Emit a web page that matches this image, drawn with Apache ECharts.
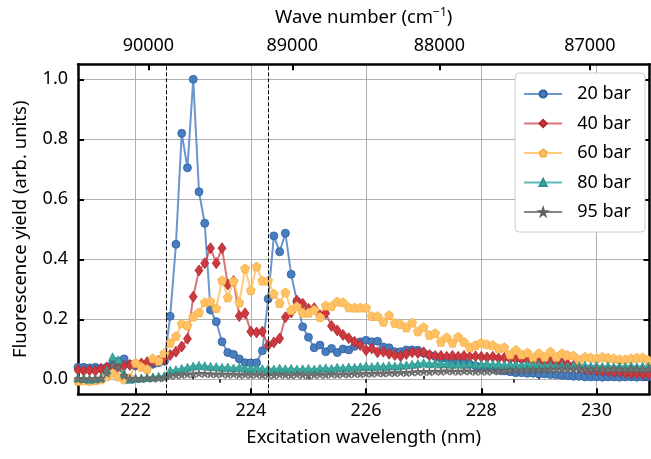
<!DOCTYPE html>
<html>
<head>
<meta charset="utf-8">
<script src="https://cdn.jsdelivr.net/npm/echarts@6/dist/echarts.min.js"></script>
<style>
  html, body { margin: 0; padding: 0; background: #fff; }
  #chart { width: 651px; height: 459px; }
</style>
</head>
<body>
<div id="chart"></div>
<script>
// excitation wavelength grid (nm), 0.1 nm steps
const wavelength = []
for (let i = 0; i <= 100; i++) wavelength.push(+(221 + 0.1 * i).toFixed(1))

const bar20 = [
  0.040, 0.040, 0.038, 0.040, 0.036, 0.040, 0.050, 0.060, 0.068, 0.050,
  0.045, 0.045, 0.048, 0.050, 0.055, 0.060, 0.210, 0.450, 0.820, 0.705,
  1.000, 0.625, 0.520, 0.231, 0.192, 0.125, 0.089, 0.083, 0.068, 0.055,
  0.055, 0.055, 0.095, 0.268, 0.478, 0.425, 0.487, 0.350, 0.260, 0.175,
  0.140, 0.105, 0.114, 0.092, 0.103, 0.089, 0.101, 0.098, 0.110, 0.125,
  0.130, 0.125, 0.127, 0.108, 0.105, 0.092, 0.092, 0.098, 0.098, 0.097,
  0.087, 0.081, 0.076, 0.070, 0.070, 0.065, 0.060, 0.055, 0.050, 0.045,
  0.042, 0.038, 0.035, 0.030, 0.028, 0.025, 0.022, 0.022, 0.020, 0.020,
  0.018, 0.018, 0.016, 0.015, 0.013, 0.012, 0.010, 0.010, 0.008, 0.008,
  0.008, 0.007, 0.008, 0.008, 0.007, 0.008, 0.008, 0.007, 0.008, 0.008, 0.008
]
const bar40 = [
  0.031, 0.028, 0.030, 0.028, 0.035, 0.040, 0.040, 0.042, 0.045, 0.048,
  0.051, 0.053, 0.057, 0.059, 0.062, 0.068, 0.081, 0.092, 0.109, 0.135,
  0.275, 0.363, 0.387, 0.437, 0.387, 0.437, 0.316, 0.328, 0.211, 0.220,
  0.159, 0.156, 0.159, 0.113, 0.123, 0.136, 0.207, 0.223, 0.262, 0.252,
  0.235, 0.237, 0.214, 0.220, 0.178, 0.163, 0.148, 0.137, 0.125, 0.114,
  0.097, 0.103, 0.090, 0.092, 0.085, 0.081, 0.077, 0.084, 0.090, 0.088,
  0.090, 0.081, 0.078, 0.078, 0.075, 0.078, 0.075, 0.078, 0.075, 0.077,
  0.075, 0.073, 0.075, 0.070, 0.072, 0.068, 0.067, 0.065, 0.064, 0.062,
  0.061, 0.058, 0.060, 0.055, 0.055, 0.050, 0.045, 0.040, 0.035, 0.032,
  0.030, 0.028, 0.027, 0.025, 0.024, 0.022, 0.020, 0.020, 0.018, 0.018, 0.017
]
const bar60 = [
  -0.005, -0.003, -0.005, -0.003, 0.000, 0.010, 0.020, 0.009, 0.000, 0.005,
  0.055, 0.042, 0.034, 0.070, 0.062, 0.087, 0.122, 0.144, 0.186, 0.180,
  0.209, 0.223, 0.257, 0.260, 0.237, 0.330, 0.273, 0.328, 0.256, 0.370,
  0.297, 0.376, 0.329, 0.329, 0.285, 0.254, 0.290, 0.231, 0.243, 0.222,
  0.222, 0.232, 0.208, 0.246, 0.244, 0.259, 0.257, 0.240, 0.239, 0.239,
  0.239, 0.211, 0.211, 0.192, 0.214, 0.188, 0.184, 0.173, 0.189, 0.160,
  0.174, 0.148, 0.154, 0.125, 0.140, 0.122, 0.142, 0.125, 0.107, 0.114,
  0.122, 0.117, 0.114, 0.103, 0.107, 0.083, 0.098, 0.083, 0.089, 0.073,
  0.087, 0.075, 0.092, 0.075, 0.087, 0.081, 0.079, 0.064, 0.075, 0.073,
  0.070, 0.075, 0.072, 0.070, 0.067, 0.067, 0.070, 0.072, 0.073, 0.064, 0.065
]
const bar80 = [
  0.005, 0.003, 0.000, 0.002, 0.005, 0.030, 0.075, 0.065, 0.020, 0.000,
  0.003, 0.004, 0.006, 0.008, 0.010, 0.012, 0.030, 0.032, 0.036, 0.040,
  0.044, 0.047, 0.045, 0.043, 0.042, 0.040, 0.041, 0.038, 0.040, 0.037,
  0.036, 0.038, 0.035, 0.036, 0.034, 0.037, 0.035, 0.036, 0.034, 0.035,
  0.036, 0.034, 0.037, 0.038, 0.036, 0.040, 0.038, 0.041, 0.040, 0.042,
  0.044, 0.042, 0.045, 0.043, 0.046, 0.044, 0.047, 0.048, 0.050, 0.052,
  0.055, 0.052, 0.054, 0.051, 0.053, 0.050, 0.052, 0.050, 0.053, 0.051,
  0.050, 0.052, 0.049, 0.051, 0.048, 0.050, 0.049, 0.047, 0.050, 0.048,
  0.049, 0.046, 0.048, 0.045, 0.047, 0.044, 0.046, 0.045, 0.047, 0.044,
  0.046, 0.043, 0.045, 0.042, 0.044, 0.043, 0.045, 0.042, 0.044, 0.043, 0.044
]
const bar95 = [
  0.002, 0.000, 0.002, 0.001, 0.003, 0.020, 0.048, 0.040, 0.012, 0.002,
  0.003, 0.002, 0.004, 0.003, 0.004, 0.005, 0.012, 0.014, 0.015, 0.017,
  0.018, 0.020, 0.019, 0.018, 0.017, 0.018, 0.016, 0.017, 0.015, 0.016,
  0.015, 0.016, 0.014, 0.015, 0.014, 0.016, 0.015, 0.014, 0.016, 0.015,
  0.014, 0.015, 0.016, 0.015, 0.017, 0.016, 0.018, 0.017, 0.019, 0.018,
  0.020, 0.019, 0.021, 0.020, 0.022, 0.021, 0.023, 0.022, 0.024, 0.025,
  0.026, 0.025, 0.027, 0.026, 0.028, 0.027, 0.026, 0.028, 0.027, 0.026,
  0.027, 0.026, 0.028, 0.027, 0.029, 0.030, 0.031, 0.030, 0.032, 0.031,
  0.033, 0.032, 0.034, 0.033, 0.035, 0.034, 0.033, 0.035, 0.034, 0.033,
  0.035, 0.034, 0.033, 0.035, 0.034, 0.033, 0.035, 0.034, 0.033, 0.034, 0.033
]

// dashed resonance markers (nm)
const resonances = [222.54, 224.31]

const wlMajor = [222, 224, 226, 228, 230]
const wlMinor = [223, 225, 227, 229]
const yTicks = [0, 0.2, 0.4, 0.6, 0.8, 1.0]
const wnMajor = [90000, 89000, 88000, 87000]
const wnMinor = [89500, 88500, 87500]

const FONT = 'Noto Sans'
const X_MIN = 221, X_MAX = 230.92

const pentagon = 'path://M0,-1L0.951,-0.309L0.588,0.809L-0.588,0.809L-0.951,-0.309Z'
const star = 'path://M0,-1L0.225,-0.309L0.951,-0.309L0.363,0.118L0.588,0.809L0,0.382L-0.588,0.809L-0.363,0.118L-0.951,-0.309L-0.225,-0.309Z'

const seriesDefs = [
  { name: '20 bar', values: bar20, symbol: 'circle', size: 8, fill: '#4a7dbd', edge: '#2c5f9f', line: 'rgba(80,132,196,0.85)' },
  { name: '40 bar', values: bar40, symbol: 'diamond', size: [8, 11], fill: '#cc3a40', edge: '#b0262d', line: 'rgba(204,70,76,0.75)' },
  { name: '60 bar', values: bar60, symbol: pentagon, size: 9, fill: '#ffc163', edge: '#f5b14a', line: 'rgba(255,193,99,0.85)' },
  { name: '80 bar', values: bar80, symbol: 'triangle', size: 8, fill: '#3aaaa2', edge: '#2b948c', line: 'rgba(58,170,162,0.8)' },
  { name: '95 bar', values: bar95, symbol: star, size: 8, fill: '#757575', edge: '#606060', line: 'rgba(110,110,110,0.85)' }
]

const chart = echarts.init(document.getElementById('chart'))

const tickMajor = { show: true, inside: true, length: 6, lineStyle: { color: '#000', width: 2 } }
const tickMinor = { show: true, inside: true, length: 3.5, lineStyle: { color: '#000', width: 1.5 } }
const spine = { show: true, onZero: false, lineStyle: { color: '#000', width: 2.5 } }

const series = seriesDefs.map(s => ({
  name: s.name,
  type: 'line',
  xAxisIndex: 0,
  yAxisIndex: 0,
  data: wavelength.map((w, i) => [w, s.values[i]]),
  symbol: s.symbol,
  symbolSize: s.size,
  showAllSymbol: true,
  lineStyle: { color: s.line, width: 2 },
  itemStyle: { color: s.fill, borderColor: s.edge, borderWidth: 0.8 },
  emphasis: { disabled: true },
  animation: false,
  clip: true
}))

series[0].markLine = {
  silent: true,
  symbol: 'none',
  label: { show: false },
  lineStyle: { color: '#000', type: [4, 2], width: 1 },
  data: resonances.map(r => ({ xAxis: r }))
}

chart.setOption({
  animation: false,
  grid: { left: 78, right: 1.5, top: 64.3, bottom: 64.7 },
  legend: {
    orient: 'vertical',
    right: 6,
    top: 73,
    itemWidth: 38,
    itemHeight: 9,
    itemGap: 11.5,
    padding: [12, 14, 11, 8],
    backgroundColor: '#fff',
    borderColor: '#cccccc',
    borderWidth: 1,
    borderRadius: 4,
    textStyle: { fontFamily: FONT, fontSize: 18, color: '#000', padding: [0, 0, 0, 10] },
    data: seriesDefs.map(s => s.name)
  },
  xAxis: [
    {
      type: 'value', min: X_MIN, max: X_MAX, position: 'bottom',
      name: 'Excitation wavelength (nm)', nameLocation: 'middle', nameGap: 34,
      nameTextStyle: { fontFamily: FONT, fontSize: 18.5, color: '#000' },
      axisLine: spine,
      axisTick: Object.assign({ customValues: wlMajor }, tickMajor),
      axisLabel: { customValues: wlMajor, fontFamily: FONT, fontSize: 18, color: '#000', margin: 8 },
      splitLine: { show: true, lineStyle: { color: '#b0b0b0', width: 1 } }
    },
    {
      type: 'value', min: X_MIN, max: X_MAX, position: 'bottom',
      axisLine: { show: false },
      axisTick: Object.assign({ customValues: wlMinor }, tickMinor),
      axisLabel: { show: false },
      splitLine: { show: false }
    },
    {
      type: 'value', min: X_MIN, max: X_MAX, position: 'top',
      name: 'Wave number (cm{sup|−1})', nameLocation: 'middle', nameGap: 36,
      nameTextStyle: {
        fontFamily: FONT, fontSize: 18.5, color: '#000',
        rich: { sup: { fontFamily: FONT, fontSize: 12, color: '#000', padding: [0, 0, 10, 0] } }
      },
      axisLine: spine,
      axisTick: Object.assign({ customValues: wnMajor.map(n => 2e7 / n) }, tickMajor),
      axisLabel: {
        customValues: wnMajor.map(n => 2e7 / n),
        formatter: v => String(Math.round(2e7 / v / 100) * 100),
        fontFamily: FONT, fontSize: 18, color: '#000', margin: 9
      },
      splitLine: { show: false }
    },
    {
      type: 'value', min: X_MIN, max: X_MAX, position: 'top',
      axisLine: { show: false },
      axisTick: Object.assign({ customValues: wnMinor.map(n => 2e7 / n) }, tickMinor),
      axisLabel: { show: false },
      splitLine: { show: false }
    }
  ],
  yAxis: [
    {
      type: 'value', min: -0.05, max: 1.05, position: 'left',
      name: 'Fluorescence yield (arb. units)', nameLocation: 'middle', nameGap: 48,
      nameTextStyle: { fontFamily: FONT, fontSize: 18.5, color: '#000' },
      axisLine: spine,
      axisTick: Object.assign({ customValues: yTicks }, tickMajor),
      axisLabel: { customValues: yTicks, formatter: v => v.toFixed(1), fontFamily: FONT, fontSize: 18, color: '#000', margin: 10 },
      splitLine: { show: true, lineStyle: { color: '#b0b0b0', width: 1 } }
    },
    {
      type: 'value', min: -0.05, max: 1.05, position: 'right',
      axisLine: spine,
      axisTick: Object.assign({ customValues: yTicks }, tickMajor),
      axisLabel: { show: false },
      splitLine: { show: false }
    }
  ],
  series: series
})
</script>
</body>
</html>
